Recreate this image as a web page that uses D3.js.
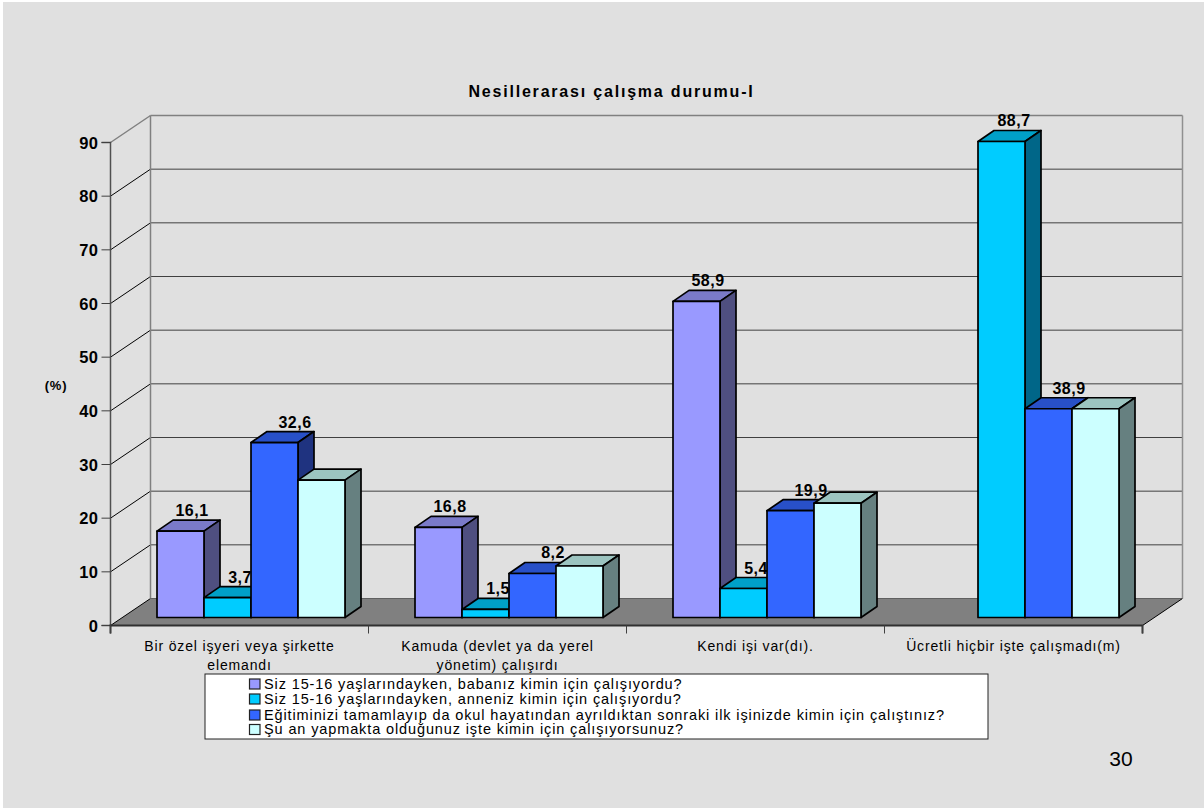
<!DOCTYPE html>
<html><head><meta charset="utf-8">
<script src="https://cdn.jsdelivr.net/npm/d3@7/dist/d3.min.js"></script>
<style>html,body{margin:0;padding:0;background:#fff}svg{display:block}text{font-family:"Liberation Sans",Arial,sans-serif;fill:#000}</style>
</head><body><svg id="c" width="1204" height="808"></svg>
<script>
const categories = [["Bir özel işyeri veya şirkette","elemandı"],["Kamuda (devlet ya da yerel","yönetim) çalışırdı"],["Kendi işi var(dı)."],["Ücretli hiçbir işte çalışmadı(m)"]];
const seriesNames = ["Siz 15-16 yaşlarındayken, babanız kimin için çalışıyordu?","Siz 15-16 yaşlarındayken, anneniz kimin için çalışıyordu?","Eğitiminizi tamamlayıp da okul hayatından ayrıldıktan sonraki ilk işinizde kimin için çalıştınız?","Şu an yapmakta olduğunuz işte kimin için çalışıyorsunuz?"];
const father = [16.1,16.8,58.9,null];
const mother = [3.7,1.5,5.4,88.7];
const firstJob = [32.6,8.2,19.9,38.9];
const currentJob = [25.6,9.6,21.3,38.9];
const labelled = [true,true,true,false];
const front = ["#9999ff","#00ccff","#3366ff","#ccffff"];
const topc = ["#7a7ac9","#00a0c8","#2850c8","#9cc4c0"];
const side = ["#4f4f80","#006688","#1f3380","#668080"];
const labelShift = [35,36,44,0];
const ticks = d3.range(0,100,10);

const svg = d3.select("#c");
svg.append("rect").attr("x",3).attr("y",2).attr("width",1201).attr("height",806).attr("fill","#e0e0e0");

const dx=40, dy=-27, bdx=16, bdy=-11;
const y = d3.scaleLinear().domain([0,90]).range([625.5,142.5]);
const x = d3.scaleBand().domain(d3.range(4)).range([110.5,1142.5]);
const inner = d3.scaleBand().domain(d3.range(4)).range([46.5,234.5]);
const baseY = 617.5, unit = (y(0)-y(1));
const x0=x(0), x1=x.range()[1];

// floor
svg.append("path").attr("d",`M${x0},${y(0)}L${x0+dx},${y(0)+dy}L${x1+dx},${y(0)+dy}L${x1},${y(0)}Z`).attr("fill","#808080");
svg.append("line").attr("x1",x0+dx).attr("x2",x1+dx).attr("y1",y(0)+dy).attr("y2",y(0)+dy).attr("stroke","#606060").attr("stroke-width",1);
svg.append("line").attr("x1",x1).attr("x2",x1+dx).attr("y1",y(0)).attr("y2",y(0)+dy).attr("stroke","#000").attr("stroke-width",1);
// walls gridlines
const g = svg.append("g");
g.selectAll("line.h").data(ticks.slice(1)).join("line").attr("x1",x0+dx).attr("x2",x1+dx).attr("y1",d=>y(d)+dy).attr("y2",d=>y(d)+dy).attr("stroke",d=>d==90?"#808080":"#404040").attr("stroke-width",d=>d==90?1.5:1);
g.selectAll("line.d").data(ticks).join("line").attr("x1",x0).attr("x2",x0+dx).attr("y1",d=>y(d)).attr("y2",d=>y(d)+dy).attr("stroke",d=>d==90?"#808080":"#000").attr("stroke-width",d=>d==90?1.5:1);
g.append("line").attr("x1",x0+dx).attr("x2",x0+dx).attr("y1",y(0)+dy).attr("y2",y(90)+dy).attr("stroke","#808080").attr("stroke-width",1.5);
g.append("line").attr("x1",x1+dx).attr("x2",x1+dx).attr("y1",y(0)+dy).attr("y2",y(90)+dy).attr("stroke","#909090").attr("stroke-width",1.5);

// axes
const ay = svg.append("g").attr("transform",`translate(${x0},0)`).call(d3.axisLeft(y).tickValues(ticks).tickSize(9).tickPadding(3).offset(0));
ay.select(".domain").attr("stroke","#505050").attr("stroke-width",1.5);
ay.selectAll(".tick line").attr("stroke","#404040");
ay.selectAll("text").attr("font-size",16.5).attr("font-weight","bold").attr("letter-spacing",0.5).attr("dy","0.38em").style("font-family",'"Liberation Sans",Arial,sans-serif');
const bx = d3.scaleLinear().domain([0,4]).range([x0,x1]);
const ax = svg.append("g").attr("transform",`translate(0,${y(0)})`).call(d3.axisBottom(bx).tickValues([0,1,2,3,4]).tickSize(8).tickFormat("").offset(0));
ax.select(".domain").attr("stroke","#303030").attr("stroke-width",2);
ax.selectAll(".tick line").attr("stroke","#404040");

// bars
const series=[father,mother,firstJob,currentJob];
const bw=inner.bandwidth();
categories.forEach((c,ci)=>{
  series.forEach((s,si)=>{
    const v=s[ci]; if(v==null) return;
    const L=x(ci)+inner(si), R=L+bw, T=baseY-v*unit, B=baseY;
    const gb=svg.append("g").attr("stroke","#000").attr("stroke-width",1.7).attr("stroke-linejoin","round");
    gb.append("path").attr("d",`M${L},${T}L${L+bdx},${T+bdy}L${R+bdx},${T+bdy}L${R},${T}Z`).attr("fill",topc[si]);
    gb.append("path").attr("d",`M${R},${T}L${R+bdx},${T+bdy}L${R+bdx},${B+bdy}L${R},${B}Z`).attr("fill",side[si]);
    gb.append("rect").attr("x",L).attr("y",T).attr("width",bw).attr("height",B-T).attr("fill",front[si]);
    if(labelled[si])svg.append("text").attr("x",L+labelShift[si]).attr("y",T+bdy-4).attr("text-anchor","middle").attr("font-size",16).attr("font-weight","bold").attr("letter-spacing",0.5).text(String(v).replace(".",","));
  });
});

// category labels
categories.forEach((c,i)=>{
  c.forEach((t,j)=>svg.append("text").attr("x",x(i)+x.bandwidth()/2).attr("y",651+j*19).attr("text-anchor","middle").attr("font-size",14).attr("letter-spacing",0.85).attr("fill","#111").text(t));
});
// titles
svg.append("text").attr("x",611.5).attr("y",96.5).attr("text-anchor","middle").attr("font-size",16).attr("font-weight","bold").attr("letter-spacing",1.8).text("Nesillerarası çalışma durumu-I");
svg.append("text").attr("x",56).attr("y",390).attr("text-anchor","middle").attr("font-size",13).attr("font-weight","bold").attr("letter-spacing",0.8).text("(%)");
svg.append("text").attr("x",1121).attr("y",766).attr("text-anchor","middle").attr("font-size",21).text("30");

// legend
svg.append("rect").attr("x",205).attr("y",674).attr("width",783).attr("height",65).attr("fill","#fff").attr("stroke","#222").attr("stroke-width",1);
seriesNames.forEach((t,i)=>{
  const ly=[684,699,715,729.5][i];
  svg.append("rect").attr("x",249.5).attr("y",ly-5).attr("width",10.5).attr("height",10).attr("fill",front[i]).attr("stroke","#222").attr("stroke-width",1.2);
  svg.append("text").attr("x",264).attr("y",ly+4.5).attr("font-size",14.5).attr("letter-spacing",0.88).text(t);
});
</script></body></html>
